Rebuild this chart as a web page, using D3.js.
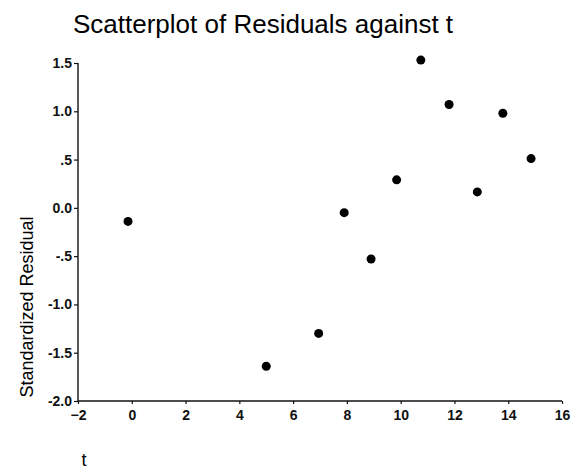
<!DOCTYPE html>
<html>
<head>
<meta charset="utf-8">
<script src="https://cdn.jsdelivr.net/npm/d3@7"></script>
<style>
  body { margin: 0; background: #fff; }
  svg { font-family: "Liberation Sans", Arial, sans-serif; }
</style>
</head>
<body>
<div id="fig"></div>
<script>
const fig_width = 576
const fig_height = 470

// values
const t_values = [-0.14, 5.0, 6.95, 7.9, 8.9, 9.85, 10.75, 11.8, 12.85, 13.8, 14.85]
const residuals = [-0.14, -1.64, -1.30, -0.05, -0.53, 0.29, 1.53, 1.07, 0.165, 0.98, 0.51]
const x_ticks = [-2, 0, 2, 4, 6, 8, 10, 12, 14, 16]
const y_ticks = [1.5, 1.0, 0.5, 0.0, -0.5, -1.0, -1.5, -2.0]
const y_tick_labels = ['1.5', '1.0', '.5', '0.0', '-.5', '-1.0', '-1.5', '-2.0']

let points = t_values.map((t, i) => ({t: t, r: residuals[i]}))

let x = d3.scaleLinear().domain([-2, 16]).range([78, 562])
let y = d3.scaleLinear().domain([-2, 1.5]).range([401, 63])

let fig = d3.select('#fig')
    .append('svg')
    .attr('width', fig_width)
    .attr('height', fig_height)

fig.append('text')
    .attr('x', 73)
    .attr('y', 33)
    .style('font-size', '26px')
    .text('Scatterplot of Residuals against t')

// y axis
let yAxis = fig.append('g')
    .attr('class', 'yaxis')
    .attr('transform', `translate(${x(-2)},0)`)
    .call(d3.axisLeft(y).tickValues(y_ticks).tickSize(4).tickPadding(2)
        .tickFormat((d, i) => y_tick_labels[i]))

// x axis
let xAxis = fig.append('g')
    .attr('class', 'xaxis')
    .attr('transform', `translate(0,${y(-2)})`)
    .call(d3.axisBottom(x).tickValues(x_ticks).tickSize(3).tickPadding(6)
        .tickFormat(d3.format('d')))

// plain axis lines, no end caps
yAxis.select('.domain').attr('d', `M0,${y(1.5)}V${y(-2)}`)
xAxis.select('.domain').attr('d', `M${x(-2)},0H${x(16)}`)

fig.selectAll('.domain')
    .attr('stroke', '#111')
    .attr('stroke-width', 1.4)
fig.selectAll('.tick line').attr('stroke', '#111').attr('stroke-width', 1.2)
fig.selectAll('.tick text')
    .attr('fill', '#111')
    .style('font-size', '14px')
    .style('font-weight', 'bold')
    .style('font-family', '"Liberation Sans", Arial, sans-serif')

fig.append('text')
    .attr('transform', 'translate(33,307) rotate(-90)')
    .attr('text-anchor', 'middle')
    .style('font-size', '18px')
    .text('Standardized Residual')

fig.append('text')
    .attr('x', 84)
    .attr('y', 466)
    .attr('text-anchor', 'middle')
    .style('font-size', '18px')
    .text('t')

fig.selectAll('circle.pt')
    .data(points)
    .join('circle')
    .attr('class', 'pt')
    .attr('cx', d => x(d.t))
    .attr('cy', d => y(d.r))
    .attr('r', 4.5)
    .attr('fill', '#000')
</script>
</body>
</html>
